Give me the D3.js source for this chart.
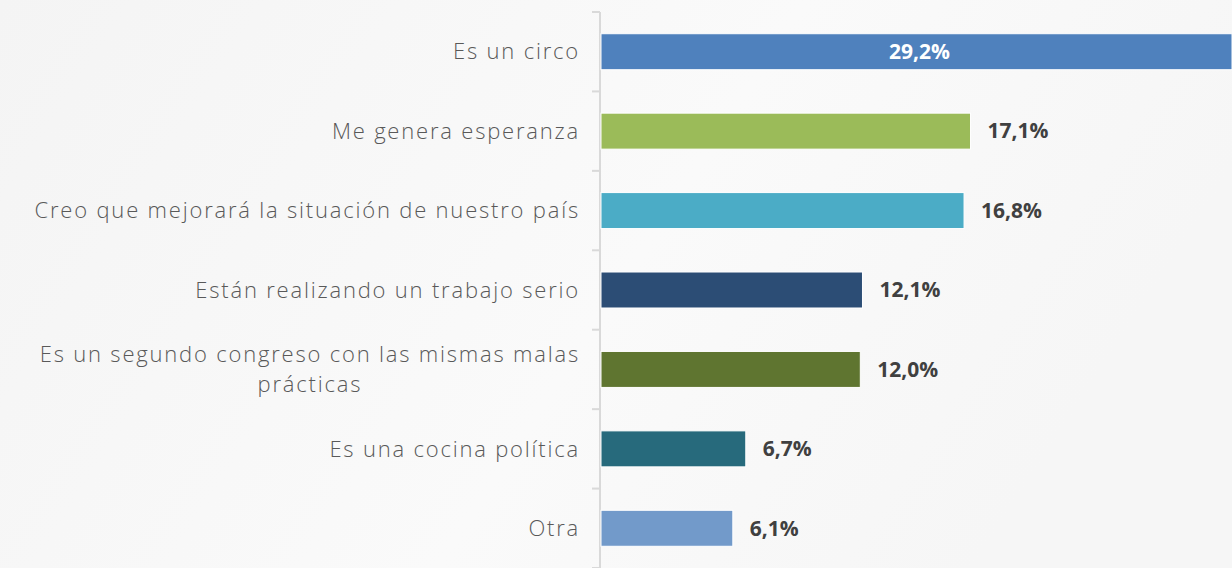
<!DOCTYPE html>
<html>
<head>
<meta charset="utf-8">
<script src="https://cdn.jsdelivr.net/npm/d3@7"></script>
<style>
  html, body { margin: 0; padding: 0; overflow: hidden; }
  body { width: 1232px; height: 568px; }
</style>
</head>
<body>
<div id="chart"></div>
<script>
// datos
var categorias = [
    "Es un circo",
    "Me genera esperanza",
    "Creo que mejorará la situación de nuestro país",
    "Están realizando un trabajo serio",
    "Es un segundo congreso con las mismas malas|prácticas",
    "Es una cocina política",
    "Otra"
];
var valores = [29.2, 17.1, 16.8, 12.1, 12.0, 6.7, 6.1];
var etiquetas = ["29,2%", "17,1%", "16,8%", "12,1%", "12,0%", "6,7%", "6,1%"];
var colores = ["#4f81bd", "#9bbb59", "#4bacc6", "#2c4d75", "#5f7530", "#276a7c", "#729aca"];

var W = 1232, H = 568;

var svg = d3.select("#chart")
    .append("svg")
    .attr("width", W)
    .attr("height", H);

// fondo con degradado suave
var defs = svg.append("defs");
var grad = defs.append("linearGradient")
    .attr("id", "bg")
    .attr("x1", "0%").attr("y1", "0%")
    .attr("x2", "100%").attr("y2", "30%");
grad.append("stop").attr("offset", "0%").attr("stop-color", "#f4f4f4");
grad.append("stop").attr("offset", "60%").attr("stop-color", "#fafafa");
grad.append("stop").attr("offset", "100%").attr("stop-color", "#f6f6f6");

svg.append("rect")
    .attr("width", W).attr("height", H)
    .attr("fill", "url(#bg)");

var x0 = 601;

var x = d3.scaleLinear()
    .domain([0, 29.2])
    .range([x0, W]);

var y = d3.scaleBand()
    .domain(categorias)
    .range([12, H])
    .paddingInner(0.547)
    .paddingOuter(0.2735);

// eje vertical con marcas entre categorias
var axis = svg.append("g");
axis.append("line")
    .attr("x1", 600).attr("x2", 600)
    .attr("y1", 12).attr("y2", H)
    .attr("stroke", "#d9d9d9")
    .attr("stroke-width", 2);

var bordes = d3.range(categorias.length + 1).map(function (i) {
    return 12 + i * y.step();
});
axis.selectAll(".tick")
    .data(bordes)
    .enter().append("line")
    .attr("x1", 592).attr("x2", 600)
    .attr("y1", function (d) { return d; })
    .attr("y2", function (d) { return d; })
    .attr("stroke", "#d9d9d9")
    .attr("stroke-width", 2);

// barras
svg.selectAll(".bar")
    .data(valores)
    .enter().append("rect")
    .attr("class", "bar")
    .attr("x", x(0))
    .attr("y", function (d, i) { return y(categorias[i]); })
    .attr("width", function (d) { return x(d) - x(0); })
    .attr("height", y.bandwidth())
    .attr("fill", function (d, i) { return colores[i]; })
    .attr("stroke", "#ffffff")
    .attr("stroke-width", 1);

// etiquetas de categoria (lineas separadas con |)
var labels = svg.selectAll(".cat")
    .data(categorias)
    .enter().append("text")
    .attr("class", "cat")
    .attr("font-family", "'Open Sans', sans-serif")
    .attr("font-weight", 300)
    .attr("font-size", "22px")
    .attr("letter-spacing", "1.8px")
    .attr("fill", "#595959")
    .attr("text-anchor", "middle");

labels.each(function (d) {
    var t = d3.select(this);
    var lines = d.split("|");
    var cy = y(d) + y.bandwidth() / 2;
    var lh = 30;
    var top = cy - (lines.length - 1) * lh / 2;
    var spans = lines.map(function (l, k) {
        return t.append("tspan")
            .attr("y", top + k * lh)
            .attr("dy", "0.35em")
            .text(l);
    });
    var wmax = d3.max(spans, function (s) { return s.node().getComputedTextLength(); });
    spans.forEach(function (s) { s.attr("x", 580 - wmax / 2); });
});

// etiquetas de valor
svg.selectAll(".val")
    .data(valores)
    .enter().append("text")
    .attr("class", "val")
    .attr("font-family", "'Open Sans', sans-serif")
    .attr("font-weight", 700)
    .attr("font-size", "21px")
    .attr("fill", function (d, i) { return i === 0 ? "#ffffff" : "#404040"; })
    .attr("text-anchor", function (d, i) { return i === 0 ? "middle" : "start"; })
    .attr("x", function (d, i) { return i === 0 ? (x(0) + x(d)) / 2 + 3 : x(d) + 17; })
    .attr("y", function (d, i) { return y(categorias[i]) + y.bandwidth() / 2; })
    .attr("dy", "0.35em")
    .text(function (d, i) { return etiquetas[i]; });
</script>
</body>
</html>
